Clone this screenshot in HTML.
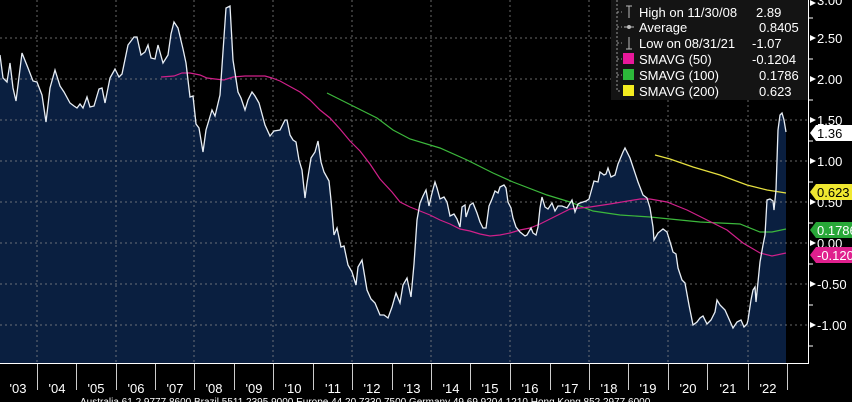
<!DOCTYPE html>
<html><head><meta charset="utf-8"><style>
html,body{margin:0;padding:0;background:#000;}
svg{display:block;font-family:"Liberation Sans",sans-serif;}
</style></head><body>
<svg width="852" height="402" viewBox="0 0 852 402" xmlns="http://www.w3.org/2000/svg">
<rect width="852" height="402" fill="#000"/>
<!-- area -->
<path fill="#0a1f40" d="M0,363 L0,55 L3,78 L7,82 L10,63 L13,88 L16,101 L22,53 L28,68 L33,81 L37,82 L42,95 L46,122 L50,88 L55,70 L60,86 L64,92 L70,103 L74,106 L77,108 L80,104 L83,108 L87,97 L90,107 L94,106 L99,89 L102,88 L105,103 L110,78 L115,69 L119,77 L122,74 L128,45 L134,37 L137,37 L141,55 L145,52 L148,45 L151,58 L155,59 L158,45 L163,63 L168,55 L171,34 L174,22 L178,28 L183,49 L186,63 L190,97 L193,96 L196,124 L199,128 L203,152 L206,130 L212,110 L215,116 L220,95 L226,8 L230,6 L233,60 L238,92 L241,98 L245,110 L248,100 L252,92 L255,96 L259,103 L265,125 L270,136 L274,131 L280,130 L285,120 L287,120 L290,135 L293,140 L296,142 L299,160 L302,170 L305,198 L307,183 L311,158 L315,152 L318,141 L321,162 L324,172 L329,181 L331,200 L334,235 L337,228 L341,247 L344,246 L348,265 L352,272 L356,285 L358,267 L362,260 L367,290 L371,299 L375,303 L380,315 L384,315 L388,318 L392,307 L396,293 L400,303 L403,285 L407,278 L411,297 L414,264 L417,220 L420,203 L423,196 L426,190 L429,206 L432,193 L435,182 L437,188 L440,199 L444,197 L447,202 L450,216 L454,214 L457,219 L460,227 L462,207 L465,205 L466,217 L470,205 L473,203 L477,213 L480,222 L483,228 L486,228 L489,206 L492,199 L495,191 L498,193 L500,187 L504,185 L506,188 L508,202 L511,208 L513,218 L516,227 L520,232 L525,236 L527,235 L531,228 L533,233 L536,235 L538,227 L540,208 L542,197 L545,207 L548,209 L552,203 L555,211 L558,206 L562,206 L567,208 L572,200 L575,212 L578,204 L580,203 L586,201 L589,199 L594,181 L598,182 L600,172 L604,175 L606,174 L608,168 L611,177 L615,175 L618,164 L623,152 L625,148 L630,158 L634,170 L638,182 L643,195 L647,198 L650,208 L653,227 L654,240 L658,233 L663,229 L667,232 L671,245 L673,252 L676,254 L678,268 L682,280 L685,283 L689,305 L693,325 L697,322 L700,318 L703,316 L707,324 L711,320 L715,312 L717,300 L720,305 L725,310 L729,319 L733,328 L737,322 L741,320 L744,327 L747,324 L748,320 L751,300 L753,290 L755,287 L756,302 L760,262 L763,245 L765,235 L767,200 L770,199 L773,201 L774,210 L776,190 L778,130 L780,115 L782,113 L784,120 L786,132 L786,363 Z"/>
<!-- grid -->
<g stroke="#8a8a8a" stroke-width="1" stroke-dasharray="2,3" opacity="0.75">
<line x1="0" y1="38" x2="808" y2="38"/><line x1="0" y1="79" x2="808" y2="79"/>
<line x1="0" y1="120" x2="808" y2="120"/><line x1="0" y1="161" x2="808" y2="161"/>
<line x1="0" y1="202" x2="808" y2="202"/><line x1="0" y1="243" x2="808" y2="243"/>
<line x1="0" y1="284" x2="808" y2="284"/><line x1="0" y1="325" x2="808" y2="325"/>
<line x1="37" y1="0" x2="37" y2="363"/><line x1="116" y1="0" x2="116" y2="363"/>
<line x1="194" y1="0" x2="194" y2="363"/><line x1="273" y1="0" x2="273" y2="363"/>
<line x1="352" y1="0" x2="352" y2="363"/><line x1="431" y1="0" x2="431" y2="363"/>
<line x1="510" y1="0" x2="510" y2="363"/><line x1="589" y1="0" x2="589" y2="363"/>
<line x1="668" y1="0" x2="668" y2="363"/><line x1="748" y1="0" x2="748" y2="363"/>
</g>
<!-- SMAs -->
<polyline fill="none" stroke="#e6e040" stroke-width="1.2" points="655,155 670,159 693,167 720,175 747,185 767,190 786,193"/>
<polyline fill="none" stroke="#3cb83c" stroke-width="1.2" points="327,93 347,103 377,118 393,130 410,139 440,148 467,160 493,173 513,182 547,195 570,202 593,211 620,215 650,217 670,219 700,222 740,224 760,232 772,232 786,229"/>
<polyline fill="none" stroke="#d0208a" stroke-width="1.2" points="161,77 174,76 182,73 190,73 200,75 207,78 215,79 224,80 233,77 245,76 265,76 272,78 280,81 300,92 310,100 320,110 330,118 340,129 350,141 360,151 370,164 380,179 392,192 400,202 410,207 420,211 430,215 440,220 450,224 460,229 470,231 480,234 490,236 500,235 510,233 520,230 530,228 540,224 550,219 560,214 570,209 590,207 610,204 640,199 650,199 667,202 687,210 707,220 727,230 743,243 760,253 772,256 786,253"/>
<!-- main line -->
<polyline fill="none" stroke="#e8eef5" stroke-width="1.3" points="0,55 3,78 7,82 10,63 13,88 16,101 22,53 28,68 33,81 37,82 42,95 46,122 50,88 55,70 60,86 64,92 70,103 74,106 77,108 80,104 83,108 87,97 90,107 94,106 99,89 102,88 105,103 110,78 115,69 119,77 122,74 128,45 134,37 137,37 141,55 145,52 148,45 151,58 155,59 158,45 163,63 168,55 171,34 174,22 178,28 183,49 186,63 190,97 193,96 196,124 199,128 203,152 206,130 212,110 215,116 220,95 226,8 230,6 233,60 238,92 241,98 245,110 248,100 252,92 255,96 259,103 265,125 270,136 274,131 280,130 285,120 287,120 290,135 293,140 296,142 299,160 302,170 305,198 307,183 311,158 315,152 318,141 321,162 324,172 329,181 331,200 334,235 337,228 341,247 344,246 348,265 352,272 356,285 358,267 362,260 367,290 371,299 375,303 380,315 384,315 388,318 392,307 396,293 400,303 403,285 407,278 411,297 414,264 417,220 420,203 423,196 426,190 429,206 432,193 435,182 437,188 440,199 444,197 447,202 450,216 454,214 457,219 460,227 462,207 465,205 466,217 470,205 473,203 477,213 480,222 483,228 486,228 489,206 492,199 495,191 498,193 500,187 504,185 506,188 508,202 511,208 513,218 516,227 520,232 525,236 527,235 531,228 533,233 536,235 538,227 540,208 542,197 545,207 548,209 552,203 555,211 558,206 562,206 567,208 572,200 575,212 578,204 580,203 586,201 589,199 594,181 598,182 600,172 604,175 606,174 608,168 611,177 615,175 618,164 623,152 625,148 630,158 634,170 638,182 643,195 647,198 650,208 653,227 654,240 658,233 663,229 667,232 671,245 673,252 676,254 678,268 682,280 685,283 689,305 693,325 697,322 700,318 703,316 707,324 711,320 715,312 717,300 720,305 725,310 729,319 733,328 737,322 741,320 744,327 747,324 748,320 751,300 753,290 755,287 756,302 760,262 763,245 765,235 767,200 770,199 773,201 774,210 776,190 778,130 780,115 782,113 784,120 786,132"/>
<!-- axes -->
<line x1="808.5" y1="0" x2="808.5" y2="364" stroke="#fff" stroke-width="1"/>
<line x1="0" y1="363.5" x2="809" y2="363.5" stroke="#fff" stroke-width="1"/>
<g stroke="#fff" stroke-width="1">
<line x1="809" y1="18" x2="813" y2="18"/><line x1="809" y1="59" x2="813" y2="59"/><line x1="809" y1="100" x2="813" y2="100"/><line x1="809" y1="141" x2="813" y2="141"/><line x1="809" y1="182" x2="813" y2="182"/><line x1="809" y1="223" x2="813" y2="223"/><line x1="809" y1="264" x2="813" y2="264"/><line x1="809" y1="305" x2="813" y2="305"/><line x1="809" y1="346" x2="813" y2="346"/>
</g>
<g stroke="#ccc" stroke-width="1">
<line x1="37.5" y1="364" x2="37.5" y2="390"/><line x1="76.5" y1="364" x2="76.5" y2="390"/><line x1="116.5" y1="364" x2="116.5" y2="390"/><line x1="155.5" y1="364" x2="155.5" y2="390"/><line x1="194.5" y1="364" x2="194.5" y2="390"/><line x1="234.5" y1="364" x2="234.5" y2="390"/><line x1="273.5" y1="364" x2="273.5" y2="390"/><line x1="313.5" y1="364" x2="313.5" y2="390"/><line x1="352.5" y1="364" x2="352.5" y2="390"/><line x1="392.5" y1="364" x2="392.5" y2="390"/><line x1="431.5" y1="364" x2="431.5" y2="390"/><line x1="470.5" y1="364" x2="470.5" y2="390"/><line x1="510.5" y1="364" x2="510.5" y2="390"/><line x1="550.5" y1="364" x2="550.5" y2="390"/><line x1="589.5" y1="364" x2="589.5" y2="390"/><line x1="628.5" y1="364" x2="628.5" y2="390"/><line x1="668.5" y1="364" x2="668.5" y2="390"/><line x1="707.5" y1="364" x2="707.5" y2="390"/><line x1="748.5" y1="364" x2="748.5" y2="390"/><line x1="787.5" y1="364" x2="787.5" y2="390"/>
</g>
<g fill="#fff" font-size="13" text-anchor="middle">
<text x="18" y="393">'03</text><text x="57" y="393">'04</text><text x="96" y="393">'05</text><text x="136" y="393">'06</text><text x="175" y="393">'07</text><text x="214" y="393">'08</text><text x="254" y="393">'09</text><text x="293" y="393">'10</text><text x="333" y="393">'11</text><text x="372" y="393">'12</text><text x="412" y="393">'13</text><text x="451" y="393">'14</text><text x="490" y="393">'15</text><text x="530" y="393">'16</text><text x="570" y="393">'17</text><text x="609" y="393">'18</text><text x="648" y="393">'19</text><text x="688" y="393">'20</text><text x="728" y="393">'21</text><text x="768" y="393">'22</text>
</g>
<text x="80" y="405" fill="#fff" font-size="10">Australia 61 2 9777 8600 Brazil 5511 2395 9000 Europe 44 20 7330 7500 Germany 49 69 9204 1210 Hong Kong 852 2977 6000</text>
<!-- right labels -->
<g fill="#fff" font-size="13">
<path d="M810,0 l6,3 l-6,3z"/><text x="817" y="5">3.00</text>
<path d="M810,35 l6,3 l-6,3z"/><text x="817" y="43">2.50</text>
<path d="M810,76 l6,3 l-6,3z"/><text x="817" y="84">2.00</text>
<path d="M810,117 l6,3 l-6,3z"/><text x="817" y="125">1.50</text>
<path d="M810,158 l6,3 l-6,3z"/><text x="817" y="166">1.00</text>
<path d="M810,199 l6,3 l-6,3z"/><text x="817" y="207">0.50</text>
<path d="M810,240 l6,3 l-6,3z"/><text x="817" y="248">0.00</text>
<path d="M810,281 l6,3 l-6,3z"/><text x="817" y="289">-0.50</text>
<path d="M810,322 l6,3 l-6,3z"/><text x="817" y="330">-1.00</text>
</g>
<path d="M810,133 l6,-8 h36 v16 h-36z" fill="#fff"/>
<text x="817" y="138" fill="#000" font-size="13">1.36</text>
<path d="M810,192 l6,-8 h36 v16 h-36z" fill="#f0e830"/>
<text x="817" y="197" fill="#000" font-size="13">0.623</text>
<path d="M810,230 l6,-8 h36 v16 h-36z" fill="#28a838"/>
<text x="817" y="235" fill="#fff" font-size="13">0.1786</text>
<path d="M810,255 l6,-8 h36 v16 h-36z" fill="#e0208e"/>
<text x="817" y="260" fill="#fff" font-size="13">-0.1204</text>
<!-- legend -->
<rect x="611" y="0" width="197" height="100" fill="#141414"/>
<g stroke="#999" stroke-dasharray="2,2" fill="none">
<path d="M617,0 V91 H622"/><line x1="617" y1="27" x2="622" y2="27"/><line x1="617" y1="43" x2="622" y2="43"/><line x1="617" y1="59" x2="622" y2="59"/><line x1="617" y1="75" x2="622" y2="75"/><line x1="617" y1="12" x2="622" y2="12"/>
</g>
<g stroke="#bbb" stroke-width="1" fill="none">
<path d="M626,6 h6 M629,6 v12"/><path d="M624,27 h10"/><circle cx="629" cy="27" r="1.5" fill="#bbb"/><path d="M629,37 v12 M626,49 h6"/>
</g>
<rect x="623" y="53" width="11" height="11" fill="#e8189a"/>
<rect x="623" y="69" width="11" height="11" fill="#2cb83a"/>
<rect x="623" y="85" width="11" height="11" fill="#f4ec20"/>
<g fill="#fff" font-size="13">
<text x="639" y="17">High on 11/30/08</text><text x="639" y="32">Average</text><text x="639" y="48">Low on 08/31/21</text><text x="639" y="64">SMAVG (50)</text><text x="639" y="80">SMAVG (100)</text><text x="639" y="96">SMAVG (200)</text>
</g>
<g fill="#fff" font-size="13">
<text x="756" y="17">2.89</text><text x="759" y="32">0.8405</text><text x="752" y="48">-1.07</text><text x="752" y="64">-0.1204</text><text x="759" y="80">0.1786</text><text x="759" y="96">0.623</text>
</g>
</svg>
</body></html>
